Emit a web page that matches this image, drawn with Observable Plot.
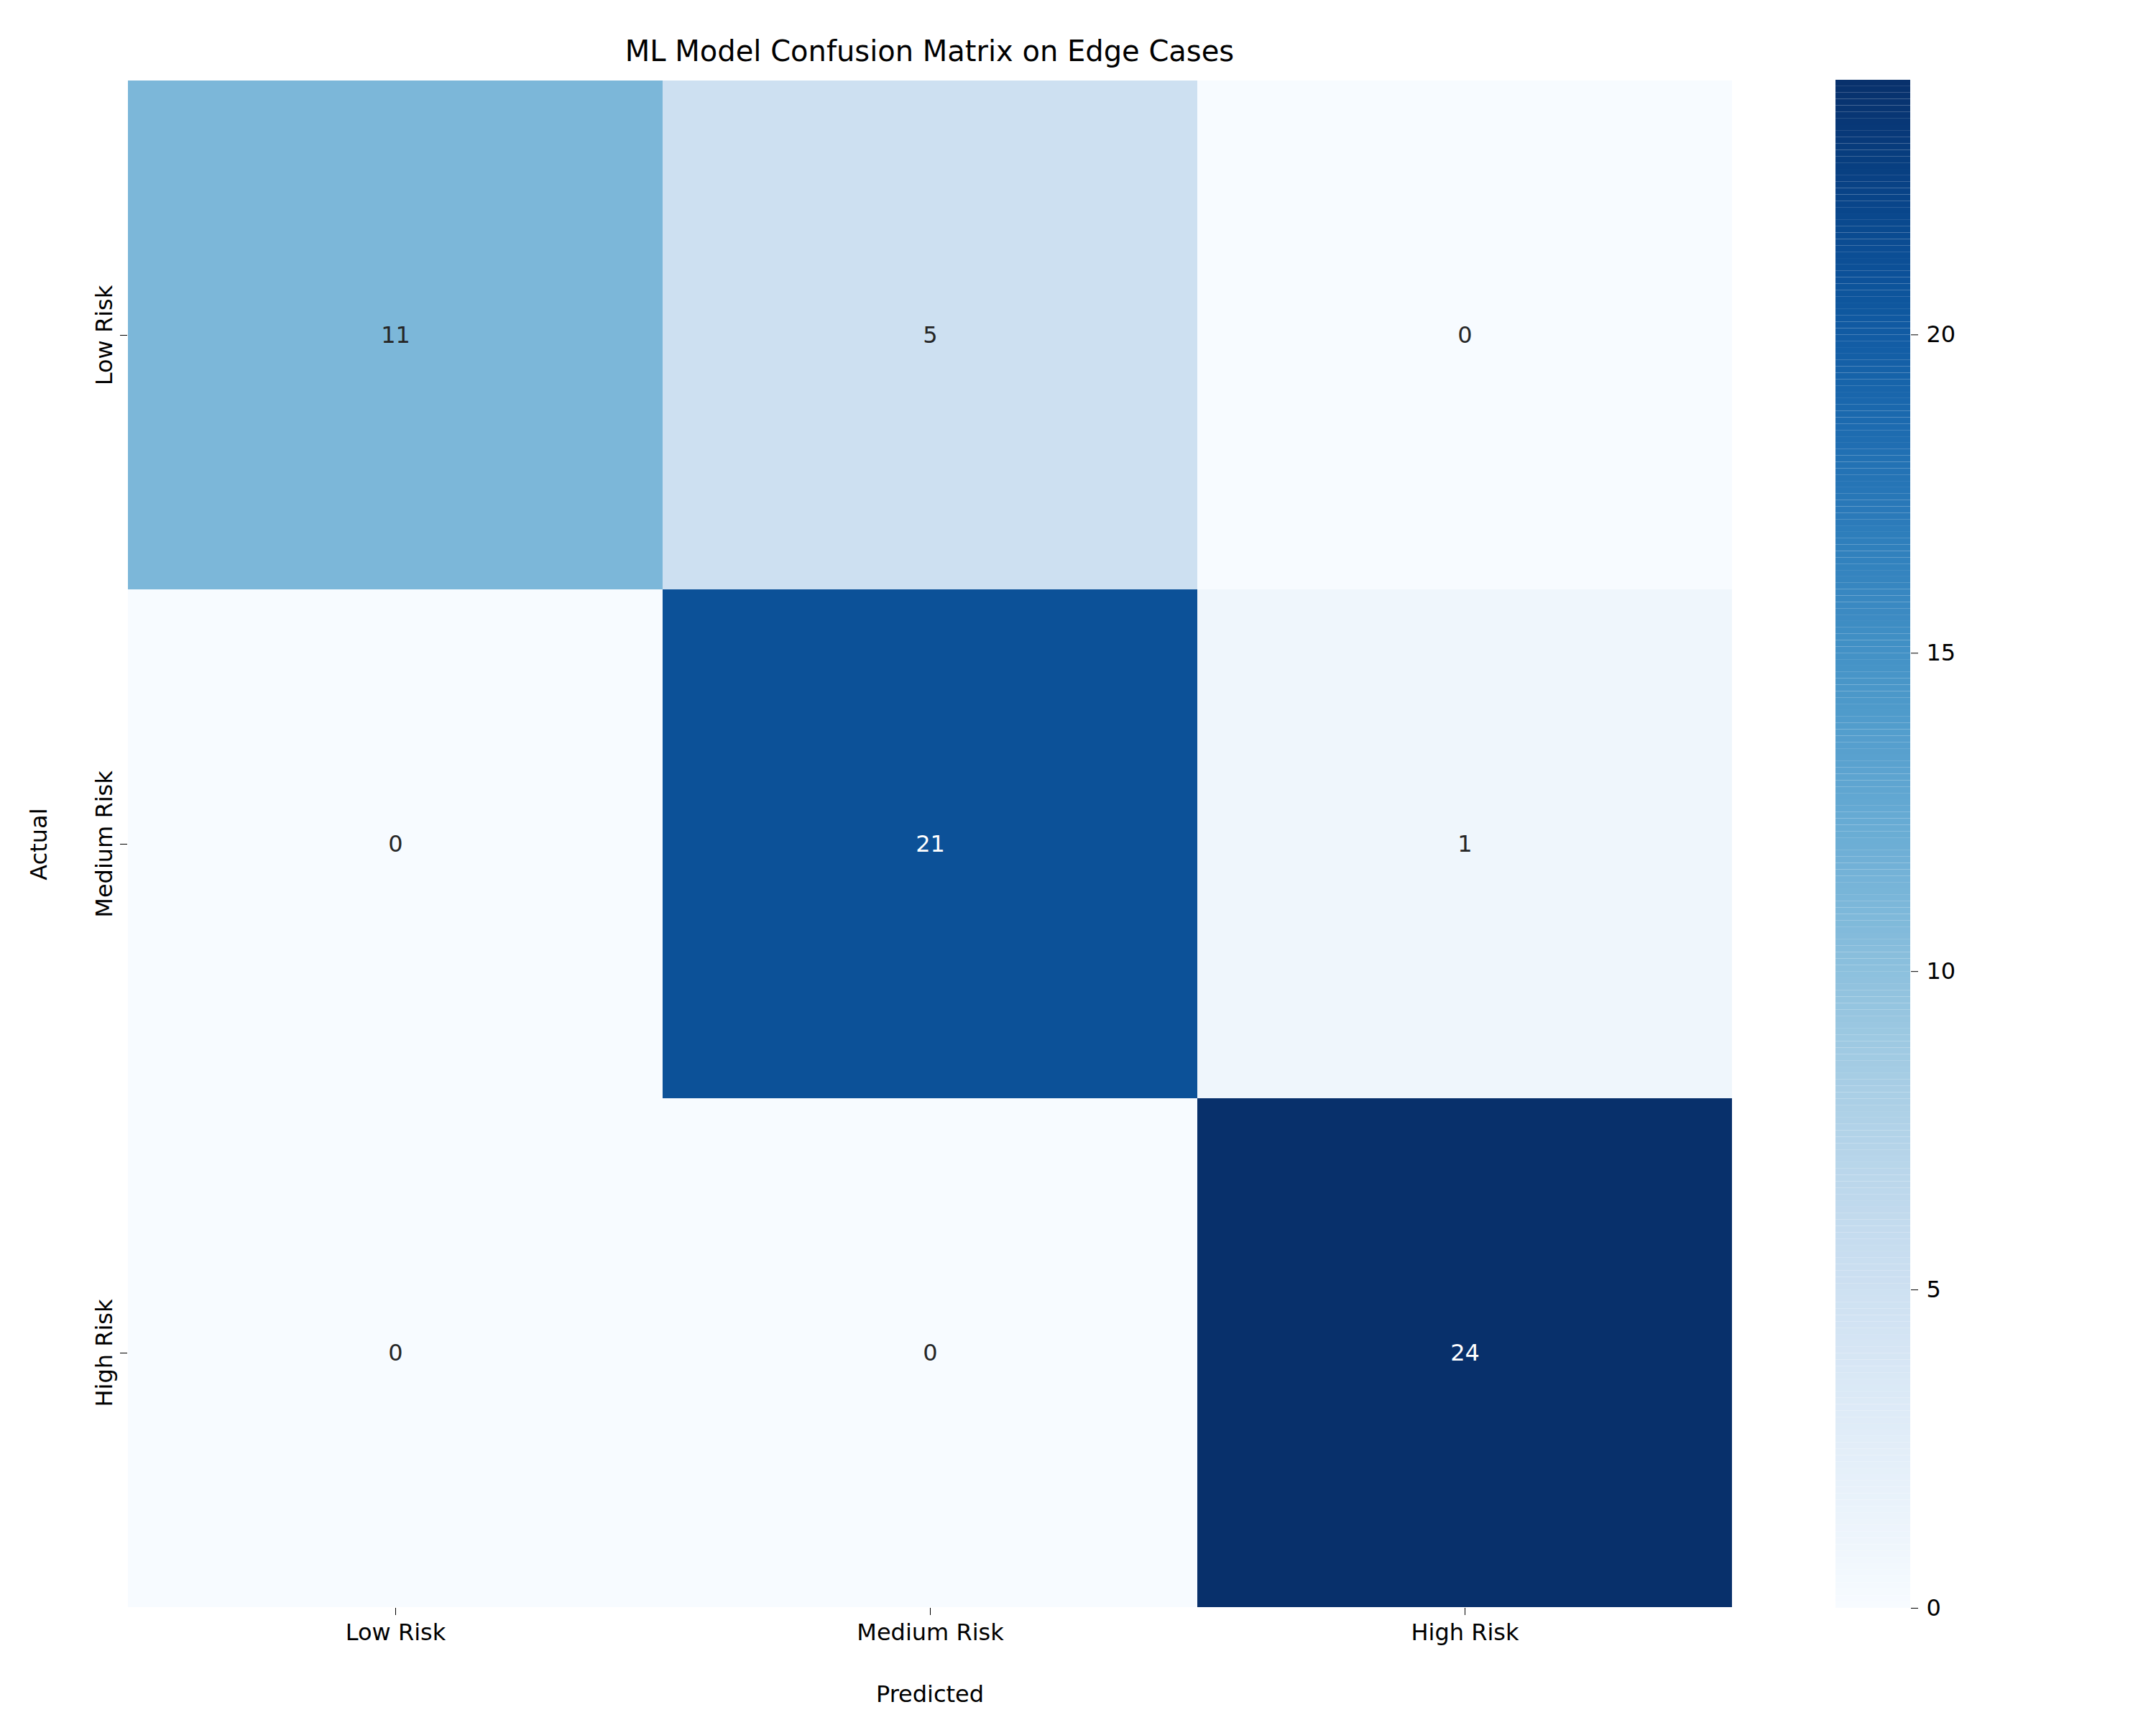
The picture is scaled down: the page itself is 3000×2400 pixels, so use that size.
<!DOCTYPE html>
<html><head>
<script src="https://cdn.jsdelivr.net/npm/d3@7"></script>
<script src="https://cdn.jsdelivr.net/npm/@observablehq/plot@0.6"></script>
<style>
body{margin:0;background:#fff;font-family:"DejaVu Sans",sans-serif}
#wrap{position:relative;width:3000px;height:2400px}
#wrap svg{position:absolute;top:0}
#title{position:absolute;top:48px;left:177px;width:2233px;text-align:center;font-size:40px}
</style></head><body>
<div id="wrap"><div id="title">ML Model Confusion Matrix on Edge Cases</div></div>
<script>
const labels = ["Low Risk", "Medium Risk", "High Risk"]
const matrix = [
  [11, 5, 0],
  [0, 21, 1],
  [0, 0, 24]
]
const cells = []
matrix.forEach((row, i) => row.forEach((v, j) => cells.push({actual: labels[i], predicted: labels[j], v})))

const color = {type: "linear", scheme: "blues", domain: [0, 24]}

let chart = Plot.plot({
  width: 3000, height: 2400,
  marginLeft: 177, marginRight: 590, marginTop: 111, marginBottom: 163,
  style: {fontSize: "32px", fontFamily: "DejaVu Sans", background: "transparent"},
  x: {domain: labels, label: "Predicted", labelAnchor: "center", labelOffset: 130, padding: 0, tickSize: 10, tickPadding: 12},
  y: {domain: labels, label: "Actual", labelAnchor: "center", labelOffset: 135, padding: 0, tickSize: 10, tickPadding: 12, tickRotate: -90},
  color,
  marks: [
    Plot.cell(cells, {x: "predicted", y: "actual", fill: "v"}),
    Plot.text(cells, {x: "predicted", y: "actual", text: "v", fontSize: 32, fill: d => d.v > 12 ? "white" : "#262626"})
  ]
})
d3.select("#wrap").append(() => chart)

// colorbar
const steps = d3.range(0, 24, 0.1)
let bar = Plot.plot({
  width: 330, height: 2400,
  marginLeft: 0, marginRight: 226, marginTop: 111, marginBottom: 163,
  style: {fontSize: "32px", fontFamily: "DejaVu Sans", background: "transparent"},
  x: {domain: [0, 1], axis: null},
  y: {domain: [0, 24], ticks: [0, 5, 10, 15, 20], axis: "right", label: null, tickSize: 10, tickPadding: 12},
  color,
  marks: [
    Plot.rect(steps, {x1: 0, x2: 1, y1: d => d, y2: d => d + 0.1, fill: d => d + 0.05})
  ]
})
d3.select(bar).style("left", "2554px")
d3.select("#wrap").append(() => bar)
</script>
</body></html>
